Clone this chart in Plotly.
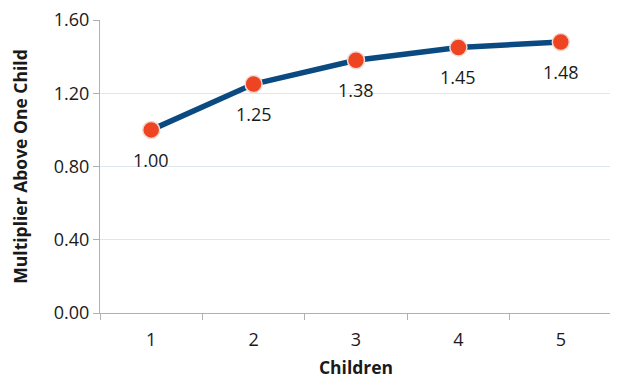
import plotly.graph_objects as go

children = ["1", "2", "3", "4", "5"]
multiplier = [1.00, 1.25, 1.38, 1.45, 1.48]
labels = ["1.00", "1.25", "1.38", "1.45", "1.48"]
y_ticks = [0.0, 0.4, 0.8, 1.2, 1.6]
y_tick_text = ["0.00", "0.40", "0.80", "1.20", "1.60"]

font_family = "Open Sans, sans-serif"

fig = go.Figure()
fig.add_trace(go.Scatter(
    x=children, y=multiplier,
    mode="lines+markers",
    line=dict(color="#0b4a80", width=5.5),
    marker=dict(color="#ee4422", size=17, line=dict(color="#f3d9cf", width=1.5)),
    cliponaxis=False,
    showlegend=False,
))

for i, (cy, lab) in enumerate(zip(multiplier, labels)):
    fig.add_annotation(
        x=i, y=cy, text=lab, showarrow=False,
        yshift=-30, xanchor="center", yanchor="middle",
        font=dict(size=18, color="#1a1a1a", family=font_family),
    )

# The page body adds an 8px offset, so the figure is sized/margined to compensate.
fig.update_layout(
    width=610, height=371,
    margin=dict(l=92, r=6, t=12, b=66),
    paper_bgcolor="white", plot_bgcolor="white",
    font=dict(family=font_family, size=18, color="#1a1a1a"),
    xaxis=dict(
        type="category",
        range=[-0.5, 4.5],
        tickson="boundaries",
        ticks="outside", ticklen=6, tickcolor="#b0b0b0",
        showline=True, linecolor="#b0b0b0", linewidth=1,
        showgrid=False,
        automargin=False,
        ticklabelstandoff=10,
        ticklabeloverflow="allow",
        title=dict(text="<b>Children</b>", font=dict(size=17.5), standoff=26),
        tickfont=dict(size=18),
    ),
    yaxis=dict(
        range=[0, 1.6],
        tickvals=y_ticks, ticktext=y_tick_text,
        ticks="outside", ticklen=6, tickcolor="#b0b0b0",
        showline=True, linecolor="#b0b0b0", linewidth=1,
        showgrid=True, gridcolor="#dce6f2", gridwidth=1,
        zeroline=False,
        automargin=False,
        ticklabeloverflow="allow",
        title=dict(text="<b>Multiplier Above One Child</b>", font=dict(size=17.5), standoff=27),
        tickfont=dict(size=18),
    ),
)

fig.write_html("out.html")
